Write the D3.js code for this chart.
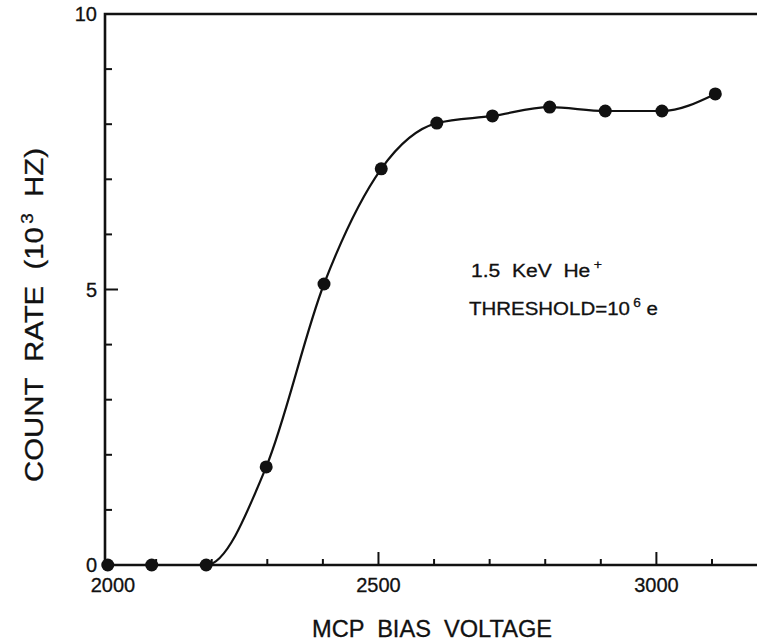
<!DOCTYPE html>
<html>
<head>
<meta charset="utf-8">
<script src="https://cdn.jsdelivr.net/npm/d3@7"></script>
<style>
  html, body { margin: 0; padding: 0; background: #fff; }
  svg { display: block; }
  text { font-family: "Liberation Sans", Arial, sans-serif; fill: #111; }
</style>
</head>
<body>
<svg id="chart" width="757" height="644"></svg>
<script>
// MCP bias voltage (V) and measured count rate (10^3 Hz)
const biasVoltage = [2013, 2092, 2190, 2298, 2402, 2505, 2605, 2705, 2808, 2908, 3010, 3106];
const countRate   = [0, 0, 0, 1.78, 5.10, 7.19, 8.02, 8.15, 8.31, 8.24, 8.24, 8.55];

const xMajorTicks = [2000, 2500, 3000];
const xMinorTicks = [2100, 2200, 2300, 2400, 2600, 2700, 2800, 2900, 3100];
const yMajorTicks = [0, 5, 10];
const yMinorTicks = [1, 2, 3, 4, 6, 7, 8, 9];

const xTitle = "MCP  BIAS  VOLTAGE";
const yTitle = ["COUNT  RATE  (10", "3", "  HZ)"];
const noteBeam = ["1.5  KeV  He", "+"];
const noteThreshold = ["THRESHOLD=10", "6", "e"];

const svg = d3.select("#chart");
const W = 757, H = 644;
const x = d3.scaleLinear().domain([2008, 3181]).range([105, 757]);
const y = d3.scaleLinear().domain([0, 10]).range([565, 14]);
const x0 = x.range()[0];
const ink = "#111";

const points = biasVoltage.map((v, i) => ({ v, r: countRate[i] }));

// frame: left axis, bottom axis, top border
const frame = svg.append("g").attr("fill", "none").attr("stroke", ink).attr("stroke-width", 2.6);
frame.append("path").attr("d", `M${W},${y(10)} H${x0} V${y(0)} H${W}`).attr("stroke-linejoin", "miter");

// x ticks (inward, pointing up)
const xAxisG = svg.append("g").attr("stroke", ink).attr("stroke-width", 2);
xAxisG.selectAll("line.minor").data(xMinorTicks).join("line")
  .attr("x1", d => x(d)).attr("x2", d => x(d)).attr("y1", y(0)).attr("y2", y(0) - 6);
xAxisG.selectAll("line.major").data(xMajorTicks.filter(d => x(d) > x0 + 2)).join("line")
  .attr("x1", d => x(d)).attr("x2", d => x(d)).attr("y1", y(0)).attr("y2", y(0) - 13);

svg.append("g").selectAll("text").data(xMajorTicks).join("text")
  .attr("x", d => Math.max(x(d), x0 + 8))
  .attr("y", 592)
  .attr("text-anchor", "middle")
  .attr("font-size", 20)
  .attr("stroke", ink).attr("stroke-width", 0.3)
  .text(d => d);

// y ticks (inward, pointing right)
const yAxisG = svg.append("g").attr("stroke", ink).attr("stroke-width", 2);
yAxisG.selectAll("line.minor").data(yMinorTicks).join("line")
  .attr("x1", x0).attr("x2", x0 + 7).attr("y1", d => y(d)).attr("y2", d => y(d));
yAxisG.selectAll("line.major").data(yMajorTicks.filter(d => d > 0 && d < 10)).join("line")
  .attr("x1", x0).attr("x2", x0 + 13).attr("y1", d => y(d)).attr("y2", d => y(d));

svg.append("g").selectAll("text").data(yMajorTicks).join("text")
  .attr("x", 97)
  .attr("y", d => y(d))
  .attr("dy", "0.36em")
  .attr("text-anchor", "end")
  .attr("font-size", 20)
  .attr("stroke", ink).attr("stroke-width", 0.3)
  .text(d => d);

// smooth response curve through the measurements
const line = d3.line()
  .x(d => x(d.v))
  .y(d => y(d.r))
  .curve(d3.curveMonotoneX);
svg.append("path")
  .datum(points.slice(1))
  .attr("d", line)
  .attr("fill", "none")
  .attr("stroke", ink)
  .attr("stroke-width", 2.2);

// measured points
svg.append("g").selectAll("circle").data(points).join("circle")
  .attr("cx", d => x(d.v))
  .attr("cy", d => y(d.r))
  .attr("r", 6.5)
  .attr("fill", ink);

// axis titles
svg.append("text")
  .attr("x", 432).attr("y", 637)
  .attr("text-anchor", "middle")
  .attr("font-size", 23)
  .attr("textLength", 240)
  .attr("lengthAdjust", "spacingAndGlyphs")
  .attr("stroke", ink).attr("stroke-width", 0.3)
  .style("white-space", "pre")
  .text(xTitle);

const yt = svg.append("text")
  .attr("transform", "translate(43,315) rotate(-90)")
  .attr("text-anchor", "middle")
  .attr("font-size", 25)
  .attr("textLength", 334)
  .attr("lengthAdjust", "spacingAndGlyphs")
  .attr("stroke", ink).attr("stroke-width", 0.3)
  .style("white-space", "pre");
yt.append("tspan").text(yTitle[0]);
yt.append("tspan").attr("dy", -10).attr("dx", 3).attr("font-size", 16).text(yTitle[1]);
yt.append("tspan").attr("dy", 10).text(yTitle[2]);

// beam annotation
const n1 = svg.append("text")
  .attr("x", 471).attr("y", 277)
  .attr("font-size", 18)
  .attr("textLength", 131)
  .attr("lengthAdjust", "spacingAndGlyphs")
  .attr("stroke", ink).attr("stroke-width", 0.3)
  .style("white-space", "pre");
n1.append("tspan").text(noteBeam[0]);
n1.append("tspan").attr("dy", -8).attr("dx", 3).attr("font-size", 12).text(noteBeam[1]);

const n2 = svg.append("text")
  .attr("x", 469).attr("y", 315)
  .attr("font-size", 18)
  .attr("textLength", 189)
  .attr("lengthAdjust", "spacingAndGlyphs")
  .attr("stroke", ink).attr("stroke-width", 0.3)
  .style("white-space", "pre");
n2.append("tspan").text(noteThreshold[0]);
n2.append("tspan").attr("dy", -8).attr("dx", 3).attr("font-size", 12).text(noteThreshold[1]);
n2.append("tspan").attr("dy", 8).attr("dx", 5).text(noteThreshold[2]);
</script>
</body>
</html>
